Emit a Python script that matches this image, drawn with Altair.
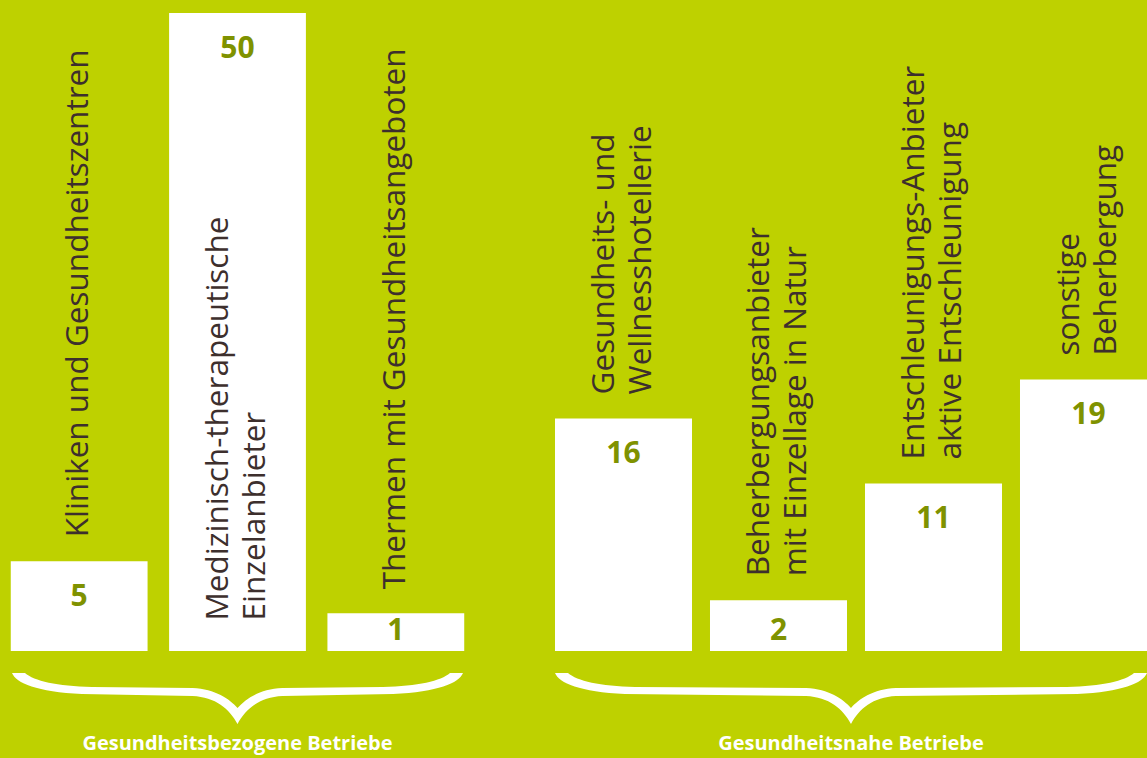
import altair as alt
import pandas as pd

# ---- data ----
group_names = ["Gesundheitsbezogene Betriebe", "Gesundheitsnahe Betriebe"]

cats_related = [
    "Kliniken und Gesundheitszentren",
    "Medizinisch-therapeutische\nEinzelanbieter",
    "Thermen mit Gesundheitsangeboten",
]
vals_related = [5, 50, 1]

cats_near = [
    "Gesundheits- und\nWellnesshotellerie",
    "Beherbergungsanbieter\nmit Einzellage in Natur",
    "Entschleunigungs-Anbieter\naktive Entschleunigung",
    "sonstige\nBeherbergung",
]
vals_near = [16, 2, 11, 19]

# ---- styling / layout constants ----
BG = "#bed100"
TXT = "#3d2f2d"
OLIVE = "#7f9200"
FONT = "Open Sans"
PLOT_H = 638
LINE_H = 37
Y_BASE = -1.9      # value at the bars' baseline
Y_TOP = 47.2       # top of the visible scale (the 50 bar is cut off)


def brace_path(half):
    s = 100.0

    def f(x, y):
        return f"{x / s:.4f} {y / s:.4f}"

    H = half
    return (
        f"M{f(-H, 0)} C{f(-H + 4, 10)} {f(-H + 25, 19)} {f(-H + 70, 21)} "
        f"L{f(-45, 23)} C{f(-22, 24)} {f(-8, 36)} {f(0, 51)} "
        f"C{f(8, 36)} {f(22, 24)} {f(45, 23)} L{f(H - 70, 21)} "
        f"C{f(H - 25, 19)} {f(H - 4, 10)} {f(H, 0)} L{f(H - 13, 0)} "
        f"C{f(H - 22, 8)} {f(H - 45, 13)} {f(H - 80, 14)} L{f(45, 15)} "
        f"C{f(22, 16)} {f(8, 26)} {f(0, 35)} C{f(-8, 26)} {f(-22, 16)} {f(-45, 15)} "
        f"L{f(-H + 80, 14)} C{f(-H + 45, 13)} {f(-H + 22, 8)} {f(-H + 13, 0)} Z"
    )


def panel(cats, vals, group, width, x_range, pad_inner, brace_cx, brace_half):
    df = pd.DataFrame({"cat": cats, "v": vals})
    xs = alt.Scale(paddingInner=pad_inner, paddingOuter=pad_inner / 2, range=[0, x_range])
    ys = alt.Scale(domain=[Y_BASE, Y_TOP], clamp=True, nice=False, zero=False)
    base = alt.Chart(df).encode(x=alt.X("cat:N", sort=None, axis=None, scale=xs))

    bars = base.mark_bar(color="white", clip=True).encode(
        y=alt.Y("v:Q", scale=ys, axis=None), y2=alt.datum(Y_BASE)
    )
    values = base.transform_calculate(ly="max(datum.v, 2.4)").mark_text(
        baseline="middle", align="center", dy=36, font=FONT, fontSize=30,
        fontWeight="bold", color=OLIVE
    ).encode(y=alt.Y("ly:Q", scale=ys, axis=None), text="v:Q")

    lab_base = base.transform_calculate(
        lab=f"datum.v > {Y_TOP} ? {Y_BASE + 0.5} : datum.v",
        multi="indexof(datum.cat, '\\n') >= 0",
    )
    text_style = dict(
        angle=270, align="left", baseline="middle", dx=24, lineBreak="\n",
        font=FONT, fontSize=31.5, lineHeight=LINE_H, color=TXT
    )
    labels_one = lab_base.transform_filter("!datum.multi").mark_text(
        **text_style
    ).encode(y=alt.Y("lab:Q", scale=ys, axis=None), text="cat:N")
    labels_two = lab_base.transform_filter("datum.multi").mark_text(
        dy=-LINE_H / 2, **text_style
    ).encode(y=alt.Y("lab:Q", scale=ys, axis=None), text="cat:N")

    gdf = pd.DataFrame({"g": [group]})
    brace = alt.Chart(gdf).mark_point(
        shape=brace_path(brace_half), size=40000, filled=True, fill="white",
        opacity=1, strokeWidth=0
    ).encode(x=alt.value(brace_cx), y=alt.value(660))
    glabel = alt.Chart(gdf).mark_text(
        font=FONT, fontSize=20, fontWeight="bold", color="white",
        align="center", baseline="middle"
    ).encode(x=alt.value(brace_cx), y=alt.value(731), text="g:N")

    return alt.layer(bars, values, labels_one, labels_two, brace, glabel).properties(
        width=width, height=PLOT_H
    )


left = panel(cats_related, vals_related, group_names[0], 475, 475, 0.136, 237.5, 225.5)
right = panel(cats_near, vals_near, group_names[1], 601, 620, 0.116, 305, 296)

chart = alt.hconcat(left, right, spacing=71).properties(
    background=BG,
    padding={"left": 0, "top": 13, "right": 0, "bottom": 4},
).configure_view(stroke=None)

chart.save("out.html", embed_options={"renderer": "svg", "actions": False})
